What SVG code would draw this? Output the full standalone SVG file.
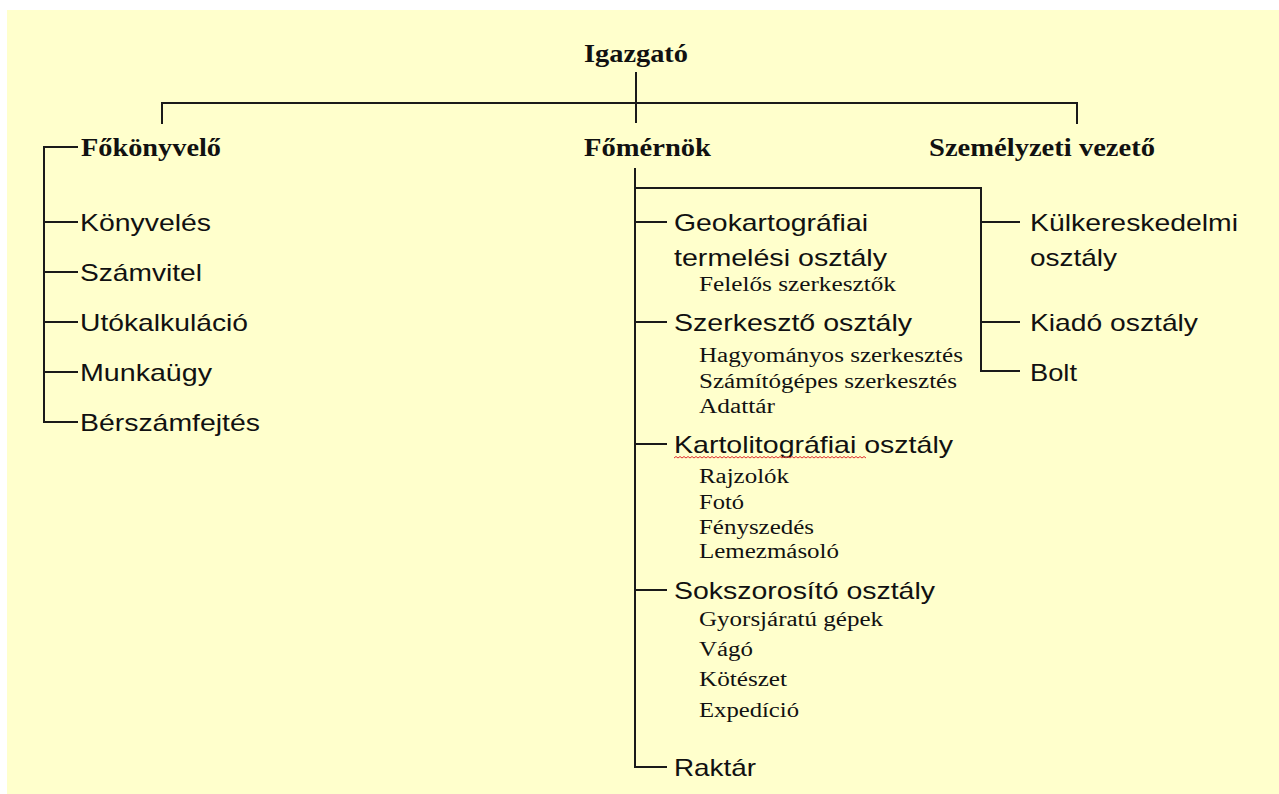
<svg xmlns="http://www.w3.org/2000/svg" width="1279" height="794" viewBox="0 0 1279 794">
<defs>
<style>
.bg{fill:#FFFFCC}
.ln{stroke:#1a1a1a;stroke-width:2;fill:none}
.h{font-family:"Liberation Serif",serif;font-weight:bold;font-size:25px;fill:#111}
.s{font-family:"Liberation Sans",sans-serif;font-size:24px;fill:#111}
.t{font-family:"Liberation Serif",serif;font-size:20px;fill:#111}
.sq{stroke:#e03030;stroke-width:1;fill:none}
</style>
</defs>
<rect x="0" y="0" width="1279" height="794" fill="#ffffff"/>
<rect class="bg" x="7" y="10" width="1272" height="784"/>
<g id="connectors">
<path class="ln" d="M636 72V123M162 124V103H1077V124"/>
<path class="ln" d="M78 147H44V422H78M44 222H78M44 272H78M44 322H78M44 372H78"/>
<path class="ln" d="M635 168V767H667M635 222H667M635 322H667M635 444H667M635 590H667M635 188H981V371H1020M981 222H1020M981 322H1020"/>
</g>
<g id="igazgato"><text class="h" x="584" y="62" textLength="104" lengthAdjust="spacingAndGlyphs">Igazgató</text></g>
<g id="fokonyvelo"><text class="h" x="81" y="156" textLength="140" lengthAdjust="spacingAndGlyphs">Főkönyvelő</text></g>
<g id="fomernok"><text class="h" x="584" y="156" textLength="127" lengthAdjust="spacingAndGlyphs">Főmérnök</text></g>
<g id="szemelyzeti"><text class="h" x="929" y="156" textLength="226" lengthAdjust="spacingAndGlyphs">Személyzeti vezető</text></g>
<g id="konyveles"><text class="s" x="80" y="231" textLength="131" lengthAdjust="spacingAndGlyphs">Könyvelés</text></g>
<g id="szamvitel"><text class="s" x="80" y="281" textLength="122" lengthAdjust="spacingAndGlyphs">Számvitel</text></g>
<g id="utokalkulacio"><text class="s" x="80" y="331" textLength="168" lengthAdjust="spacingAndGlyphs">Utókalkuláció</text></g>
<g id="munkaugy"><text class="s" x="80" y="381" textLength="132" lengthAdjust="spacingAndGlyphs">Munkaügy</text></g>
<g id="berszamfejtes"><text class="s" x="80" y="431" textLength="180" lengthAdjust="spacingAndGlyphs">Bérszámfejtés</text></g>
<g id="geokartografiai">
<text class="s" x="674" y="231" textLength="194" lengthAdjust="spacingAndGlyphs">Geokartográfiai</text>
<text class="s" x="674" y="266" textLength="213" lengthAdjust="spacingAndGlyphs">termelési osztály</text>
<text class="t" x="699" y="291" textLength="197" lengthAdjust="spacingAndGlyphs">Felelős szerkesztők</text>
</g>
<g id="szerkeszto">
<text class="s" x="674" y="331" textLength="238" lengthAdjust="spacingAndGlyphs">Szerkesztő osztály</text>
<text class="t" x="699" y="362" textLength="264" lengthAdjust="spacingAndGlyphs">Hagyományos szerkesztés</text>
<text class="t" x="699" y="388" textLength="258" lengthAdjust="spacingAndGlyphs">Számítógépes szerkesztés</text>
<text class="t" x="699" y="413" textLength="76" lengthAdjust="spacingAndGlyphs">Adattár</text>
</g>
<g id="kartolitografiai">
<text class="s" x="674" y="453" textLength="279" lengthAdjust="spacingAndGlyphs">Kartolitográfiai osztály</text>
<path class="sq" d="M674 458l2 -1.5l2 1.5l2 -1.5l2 1.5l2 -1.5l2 1.5l2 -1.5l2 1.5l2 -1.5l2 1.5l2 -1.5l2 1.5l2 -1.5l2 1.5l2 -1.5l2 1.5l2 -1.5l2 1.5l2 -1.5l2 1.5l2 -1.5l2 1.5l2 -1.5l2 1.5l2 -1.5l2 1.5l2 -1.5l2 1.5l2 -1.5l2 1.5l2 -1.5l2 1.5l2 -1.5l2 1.5l2 -1.5l2 1.5l2 -1.5l2 1.5l2 -1.5l2 1.5l2 -1.5l2 1.5l2 -1.5l2 1.5l2 -1.5l2 1.5l2 -1.5l2 1.5l2 -1.5l2 1.5l2 -1.5l2 1.5l2 -1.5l2 1.5l2 -1.5l2 1.5l2 -1.5l2 1.5l2 -1.5l2 1.5l2 -1.5l2 1.5l2 -1.5l2 1.5l2 -1.5l2 1.5l2 -1.5l2 1.5l2 -1.5l2 1.5l2 -1.5l2 1.5l2 -1.5l2 1.5l2 -1.5l2 1.5l2 -1.5l2 1.5l2 -1.5l2 1.5l2 -1.5l2 1.5l2 -1.5l2 1.5l2 -1.5l2 1.5l2 -1.5l2 1.5l2 -1.5l2 1.5l2 -1.5l2 1.5l2 -1.5l2 1.5l2 -1.5l2 1.5"/>
<text class="t" x="699" y="483" textLength="90" lengthAdjust="spacingAndGlyphs">Rajzolók</text>
<text class="t" x="699" y="509" textLength="45" lengthAdjust="spacingAndGlyphs">Fotó</text>
<text class="t" x="699" y="534" textLength="115" lengthAdjust="spacingAndGlyphs">Fényszedés</text>
<text class="t" x="699" y="558" textLength="140" lengthAdjust="spacingAndGlyphs">Lemezmásoló</text>
</g>
<g id="sokszorosito">
<text class="s" x="674" y="599" textLength="261" lengthAdjust="spacingAndGlyphs">Sokszorosító osztály</text>
<text class="t" x="699" y="626" textLength="184" lengthAdjust="spacingAndGlyphs">Gyorsjáratú gépek</text>
<text class="t" x="699" y="656" textLength="54" lengthAdjust="spacingAndGlyphs">Vágó</text>
<text class="t" x="699" y="686" textLength="88" lengthAdjust="spacingAndGlyphs">Kötészet</text>
<text class="t" x="699" y="717" textLength="100" lengthAdjust="spacingAndGlyphs">Expedíció</text>
</g>
<g id="raktar"><text class="s" x="674" y="776" textLength="82" lengthAdjust="spacingAndGlyphs">Raktár</text></g>
<g id="kulkereskedelmi">
<text class="s" x="1030" y="231" textLength="208" lengthAdjust="spacingAndGlyphs">Külkereskedelmi</text>
<text class="s" x="1030" y="266" textLength="87" lengthAdjust="spacingAndGlyphs">osztály</text>
</g>
<g id="kiado"><text class="s" x="1030" y="331" textLength="168" lengthAdjust="spacingAndGlyphs">Kiadó osztály</text></g>
<g id="bolt"><text class="s" x="1030" y="381" textLength="47" lengthAdjust="spacingAndGlyphs">Bolt</text></g>
</svg>
